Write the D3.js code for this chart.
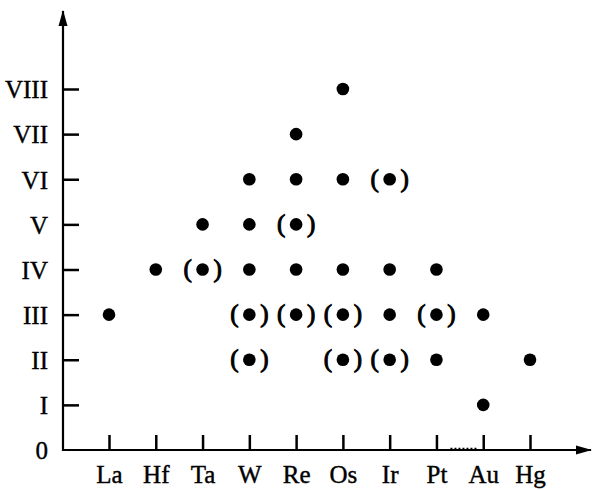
<!DOCTYPE html>
<html>
<head>
<meta charset="utf-8">
<script src="https://cdn.jsdelivr.net/npm/d3@7"></script>
<style>
	body { margin: 0; background: #fff; }
	svg { display: block; }
	text { font-family: 'Liberation Serif', 'Times New Roman', serif; fill: #000; }
</style>
</head>
<body>
<svg></svg>
<script>
const width = 592;
const height = 490;

// elements along the x axis, oxidation states up the y axis
const elements = ['La', 'Hf', 'Ta', 'W', 'Re', 'Os', 'Ir', 'Pt', 'Au', 'Hg'];
const stateLabels = ['0', 'I', 'II', 'III', 'IV', 'V', 'VI', 'VII', 'VIII'];

// common states (plain dots)
const commonEl = ['La', 'Hf', 'Ta', 'W', 'W', 'W', 'Re', 'Re', 'Re', 'Os', 'Os', 'Os', 'Ir', 'Ir', 'Pt', 'Pt', 'Au', 'Au', 'Hg'];
const commonState = [3, 4, 5, 4, 5, 6, 4, 6, 7, 4, 6, 8, 3, 4, 2, 4, 1, 3, 2];

// less common states (dots in brackets)
const rareEl = ['Ta', 'W', 'W', 'Re', 'Re', 'Os', 'Os', 'Ir', 'Ir', 'Pt'];
const rareState = [4, 2, 3, 3, 5, 2, 3, 2, 6, 3];

const svg = d3.select('svg').attr('width', width).attr('height', height);

const x = d3.scalePoint().domain(elements).range([109, 530]);
const y = d3.scaleLinear().domain([0, 8]).range([450, 89]);

const x0 = 63;
const y0 = y(0);

svg
	.append('defs')
	.append('marker')
	.attr('id', 'arrowhead')
	.attr('viewBox', '0 -5 16 10')
	.attr('refX', 15)
	.attr('refY', 0)
	.attr('orient', 'auto')
	.attr('markerUnits', 'userSpaceOnUse')
	.attr('markerWidth', 16)
	.attr('markerHeight', 10)
	.append('path')
	.attr('d', 'M 0,-4.5 L 16,0 L 0,4.5 Z')
	.attr('fill', '#000');

// y axis (ticks pointing inward)
const yAxis = svg
	.append('g')
	.attr('transform', `translate(${x0},0)`)
	.call(
		d3
			.axisLeft(y)
			.tickValues(d3.range(1, 9))
			.tickSize(-16)
			.tickPadding(15)
			.tickFormat((d) => stateLabels[d])
	);
yAxis.select('.domain').remove();
yAxis.selectAll('.tick line').attr('stroke-width', 2.5);
yAxis
	.selectAll('.tick text')
	.attr('font-size', 25)
	.attr('font-family', null)
	.attr('dy', '0.35em')
	.attr('stroke', '#000')
	.attr('stroke-width', 0.4);

// the 0 label sits at the origin
svg
	.append('text')
	.attr('x', x0 - 15)
	.attr('y', y0)
	.attr('dy', '0.35em')
	.attr('text-anchor', 'end')
	.attr('font-size', 25)
	.attr('stroke', '#000')
	.attr('stroke-width', 0.4)
	.text(stateLabels[0]);

// x axis (ticks pointing up)
const xAxis = svg
	.append('g')
	.attr('transform', `translate(0,${y0})`)
	.call(d3.axisBottom(x).tickSize(-15).tickPadding(16));
xAxis.select('.domain').remove();
xAxis.selectAll('.tick line').attr('stroke-width', 2.5);
xAxis
	.selectAll('.tick text')
	.attr('font-size', 25)
	.attr('font-family', null)
	.attr('dy', '0.68em')
	.attr('stroke', '#000')
	.attr('stroke-width', 0.4);

// axis lines with arrows
svg
	.append('line')
	.attr('x1', x0)
	.attr('y1', y0 + 1)
	.attr('x2', x0)
	.attr('y2', 11)
	.attr('stroke', '#000')
	.attr('stroke-width', 2.2)
	.attr('marker-end', 'url(#arrowhead)');

svg
	.append('line')
	.attr('x1', x0 - 1)
	.attr('y1', y0)
	.attr('x2', 591)
	.attr('y2', y0)
	.attr('stroke', '#000')
	.attr('stroke-width', 2.2)
	.attr('marker-end', 'url(#arrowhead)');

// small dotted mark between Pt and Au on the axis
svg
	.append('line')
	.attr('x1', x('Pt') + 14)
	.attr('y1', y0 - 1.5)
	.attr('x2', x('Au') - 6)
	.attr('y2', y0 - 1.5)
	.attr('stroke', '#000')
	.attr('stroke-width', 1.5)
	.attr('stroke-dasharray', '2,2');

const common = commonEl.map((el, i) => ({ el: el, s: commonState[i] }));
const rare = rareEl.map((el, i) => ({ el: el, s: rareState[i] }));

svg
	.append('g')
	.selectAll('circle')
	.data(common.concat(rare))
	.enter()
	.append('circle')
	.attr('cx', (d) => x(d.el))
	.attr('cy', (d) => y(d.s))
	.attr('r', 6.3)
	.attr('fill', '#000');

const brackets = svg.append('g').selectAll('g').data(rare).enter().append('g');

brackets
	.append('text')
	.attr('x', (d) => x(d.el) - 15)
	.attr('y', (d) => y(d.s))
	.attr('dy', '0.3em')
	.attr('text-anchor', 'middle')
	.attr('font-size', 25)
	.attr('stroke', '#000')
	.attr('stroke-width', 1)
	.text('(');

brackets
	.append('text')
	.attr('x', (d) => x(d.el) + 15)
	.attr('y', (d) => y(d.s))
	.attr('dy', '0.3em')
	.attr('text-anchor', 'middle')
	.attr('font-size', 25)
	.attr('stroke', '#000')
	.attr('stroke-width', 1)
	.text(')');
</script>
</body>
</html>
